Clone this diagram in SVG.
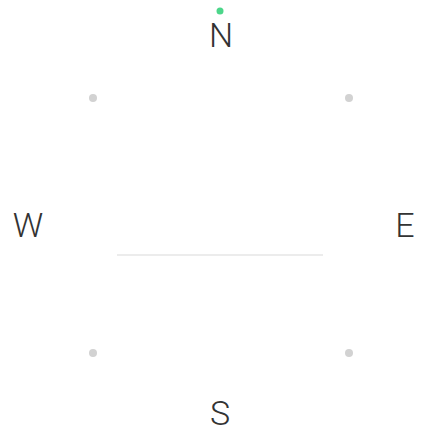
<svg xmlns="http://www.w3.org/2000/svg" width="432" height="432" viewBox="0 0 432 432">
<style>
.lbl{font-family:Roboto,"Liberation Sans",sans-serif;font-weight:300;font-size:34px;fill:#333333;text-anchor:middle}
.dot{fill:#d2d2d2}
</style>
<rect width="432" height="432" fill="#ffffff"/>
<g id="connectors">
<line x1="117" y1="255" x2="323" y2="255" stroke="#e6e6e6" stroke-width="1.5"/>
</g>
<g id="north">
<circle cx="220" cy="11" r="3.5" fill="#4cd68a"/>
<text class="lbl" x="221" y="47">N</text>
</g>
<g id="west"><text class="lbl" x="28" y="237">W</text></g>
<g id="east"><text class="lbl" x="405" y="237">E</text></g>
<g id="south"><text class="lbl" x="220" y="425">S</text></g>
<g id="dot-nw"><circle class="dot" cx="93" cy="98" r="4"/></g>
<g id="dot-ne"><circle class="dot" cx="349" cy="98" r="4"/></g>
<g id="dot-sw"><circle class="dot" cx="93" cy="353" r="4"/></g>
<g id="dot-se"><circle class="dot" cx="349" cy="353" r="4"/></g>
</svg>
